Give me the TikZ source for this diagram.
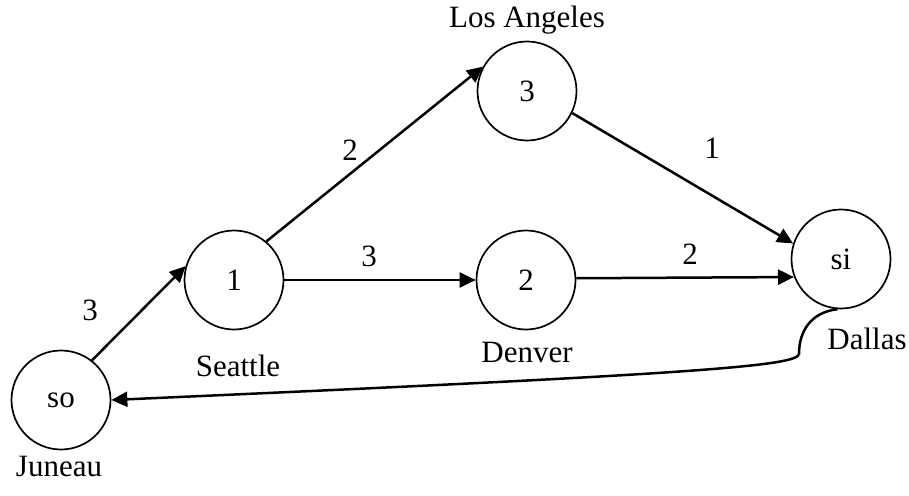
\documentclass[tikz,border=0pt]{standalone}
\usepackage{fontspec}
\setmainfont{Liberation Serif}
\usetikzlibrary{arrows.meta}
\begin{document}
\begin{tikzpicture}[x=1pt,y=-1pt,
  vert/.style={circle,draw,line width=1.7pt,minimum size=99pt,inner sep=0pt,font=\fontsize{31}{31}\selectfont},
  lbl/.style={font=\fontsize{31}{31}\selectfont,inner sep=0pt},
  edge/.style={line width=2.5pt,-{Triangle[length=16pt,width=15pt]}}]
\useasboundingbox (0,0) rectangle (909,495);
\node[vert] (so) at (61,400) {so};
\node[vert] (n1) at (234,280) {1};
\node[vert] (n2) at (526,280) {2};
\node[vert] (n3) at (527,91) {3};
\node[vert] (si) at (841,259) {si};
\node[lbl] (tla) at (527,20) {Los Angeles};
\node[lbl] (tse) at (238,366) {Seattle};
\node[lbl] (tde) at (527,352) {Denver};
\node[lbl] (tda) at (867,339) {Dallas};
\node[lbl] (tju) at (59,466) {Juneau};
\node[lbl] (w1) at (90,310) {3};
\node[lbl] (w2) at (350,150) {2};
\node[lbl] (w3) at (712,148) {1};
\node[lbl] (w4) at (369,256) {3};
\node[lbl] (w5) at (690,254) {2};
\draw[edge] (so.52) -- (n1.164);
\draw[edge] (n1.50) -- (n3.151);
\draw[edge] (n3.-26) -- (si.162);
\draw[edge] (n1.east) -- (n2.west);
\draw[edge] (n2.2) -- (si.-159);
\draw[edge] (si.266) .. controls (812,312) and (799,330) .. (799,354) .. controls (797,366) and (700,374) .. (so.east);
\end{tikzpicture}
\end{document}
